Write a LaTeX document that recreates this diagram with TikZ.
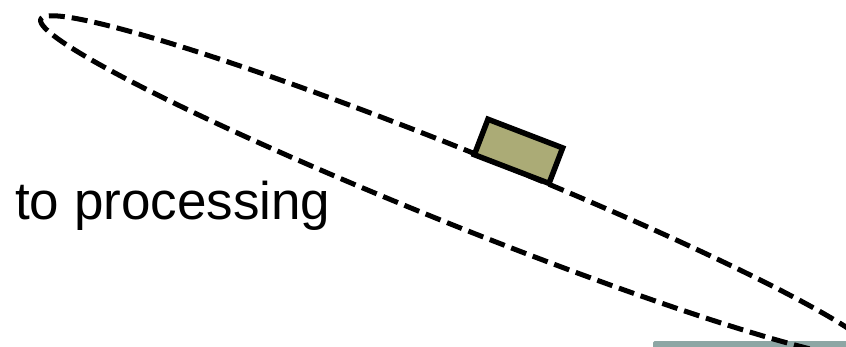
\documentclass[tikz,border=0pt]{standalone}
\usepackage{fontspec}
\setmainfont{Liberation Sans}
\definecolor{boxfill}{RGB}{171,171,118}
\definecolor{barcol}{RGB}{141,166,164}
\tikzset{
  ellline/.style={line width=5pt, dash pattern=on 16pt off 7pt, black},
  boxstyle/.style={draw=black, line width=5.5pt, fill=boxfill, minimum width=80pt, minimum height=38pt, inner sep=0pt, line join=miter},
  lbl/.style={font=\fontsize{53}{64}\selectfont, inner sep=0pt, anchor=base west}
}
\begin{document}
\begin{tikzpicture}[x=1pt,y=-1pt]
\useasboundingbox (0,0) rectangle (846,346);
\clip (0,0) rectangle (846,346);
\fill[white] (0,0) rectangle (846,346);
\fill[barcol, rounded corners=1.5pt] (653,341) rectangle (850,350);
\draw[ellline] plot[domain=0:360, samples=361, variable=\t] ({458+417.4*cos(\t)}, {187+166.5*cos(\t)+40*sin(\t)}) -- cycle;
\node[boxstyle, rotate=-21] (box) at (518.5,151.3) {};
\node[lbl] (label) at (15,219) {to processing};
\end{tikzpicture}
\end{document}
